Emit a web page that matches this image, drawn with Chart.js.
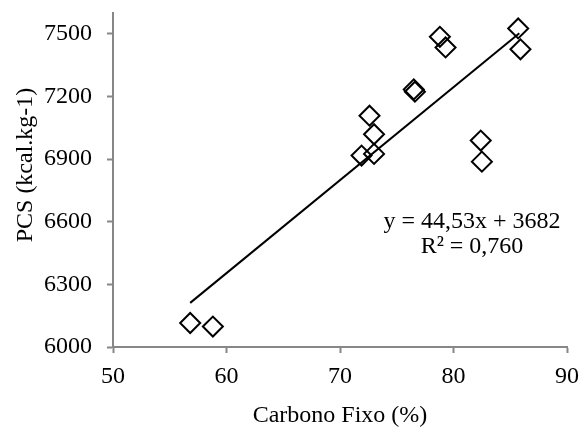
<!DOCTYPE html>
<html>
<head>
<meta charset="utf-8">
<script src="https://cdn.jsdelivr.net/npm/chart.js@4"></script>
<style>
  html, body { margin: 0; padding: 0; background: #fff; }
  #wrap { width: 580px; height: 427px; }
</style>
</head>
<body>
<div id="wrap"><canvas id="myScatterChart"></canvas></div>
<script>
// carbono fixo (%) vs PCS (kcal/kg)
var carbonoFixo = [56.8, 58.8, 71.9, 72.6, 73.0, 73.0, 76.5, 76.6, 78.8, 79.3, 82.4, 82.5, 85.7, 85.9];
var pcs = [6115, 6098, 6917, 7108, 7019, 6925, 7234, 7223, 7486, 7435, 6989, 6888, 7526, 7426];

// linha de tendência: y = 44,53x + 3682
var slope = 44.53;
var intercept = 3682;
var trendRange = [56.8, 85.8];

var xTicks = [50, 60, 70, 80, 90];
var yTicks = [6000, 6300, 6600, 6900, 7200, 7500];

var font = 'Liberation Serif, Times New Roman, serif';
var fontSize = 24;
var axisGray = '#878787';

var points = carbonoFixo.map(function (x, i) { return { x: x, y: pcs[i] }; });
var trend = trendRange.map(function (x) { return { x: x, y: slope * x + intercept }; });

var textPlugin = {
    id: 'textPlugin',
    afterDraw: function (chart) {
        var c = chart.ctx;
        c.save();
        c.fillStyle = '#000';
        c.font = fontSize + 'px ' + font;
        c.textAlign = 'center';
        c.textBaseline = 'middle';
        // titulo eixo y
        c.translate(26, 165);
        c.rotate(-Math.PI / 2);
        c.fillText('PCS (kcal.kg-1)', 0, 0);
        c.restore();

        c.save();
        c.fillStyle = '#000';
        c.font = fontSize + 'px ' + font;
        c.textAlign = 'center';
        c.textBaseline = 'middle';
        c.fillText('y = 44,53x + 3682', 472, 222);
        c.fillText('R² = 0,760', 472, 247);
        c.restore();
    }
};

var ctx = document.getElementById('myScatterChart').getContext('2d');
var myScatterChart = new Chart(ctx, {
    type: 'scatter',
    data: {
        datasets: [{
            data: points,
            pointStyle: 'rectRot',
            pointRadius: 10,
            pointHoverRadius: 10,
            borderColor: '#000',
            backgroundColor: 'rgba(0,0,0,0)',
            borderWidth: 2
        }, {
            type: 'line',
            data: trend,
            borderColor: '#000',
            borderWidth: 2,
            pointRadius: 0,
            fill: false
        }]
    },
    plugins: [textPlugin],
    options: {
        responsive: true,
        maintainAspectRatio: false,
        animation: false,
        events: [],
        layout: { padding: { top: 13, right: 13, left: 0, bottom: 0 } },
        plugins: {
            legend: { display: false },
            tooltip: { enabled: false }
        },
        scales: {
            x: {
                type: 'linear',
                min: 50,
                max: 90,
                afterBuildTicks: function (scale) {
                    scale.ticks = xTicks.map(function (v) { return { value: v }; });
                },
                afterFit: function (scale) {
                    scale.height = 80;
                    scale.paddingLeft = 0;
                    scale.paddingRight = 0;
                },
                border: { color: axisGray, width: 2 },
                grid: {
                    drawOnChartArea: false,
                    drawTicks: true,
                    tickLength: 6,
                    tickColor: axisGray,
                    tickWidth: 2
                },
                ticks: {
                    color: '#000',
                    padding: 9,
                    font: { family: font, size: fontSize },
                    callback: function (v) { return String(v); }
                },
                title: {
                    display: true,
                    text: 'Carbono Fixo (%)',
                    color: '#000',
                    padding: { top: 4, bottom: -3 },
                    font: { family: font, size: fontSize }
                }
            },
            y: {
                type: 'linear',
                min: 6000,
                max: 7600,
                afterBuildTicks: function (scale) {
                    scale.ticks = yTicks.map(function (v) { return { value: v }; });
                },
                afterFit: function (scale) {
                    scale.width = 113;
                    scale.paddingTop = 0;
                    scale.paddingBottom = 0;
                },
                border: { color: axisGray, width: 2 },
                grid: {
                    drawOnChartArea: false,
                    drawTicks: true,
                    tickLength: 6,
                    tickColor: axisGray,
                    tickWidth: 2
                },
                ticks: {
                    color: '#000',
                    padding: 15,
                    font: { family: font, size: fontSize },
                    callback: function (v) { return String(v); }
                }
            }
        }
    }
});
</script>
</body>
</html>
